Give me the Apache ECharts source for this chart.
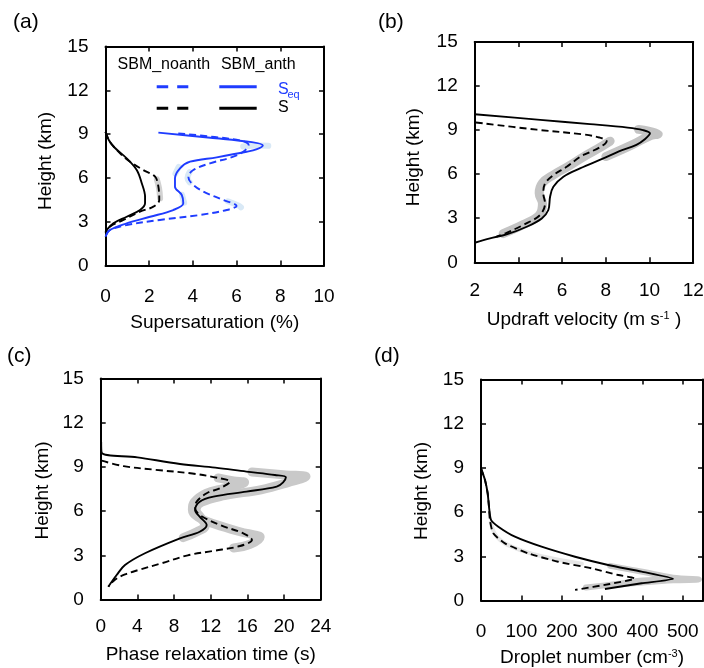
<!DOCTYPE html>
<html><head><meta charset="utf-8">
<script src="https://cdn.jsdelivr.net/npm/echarts@6/dist/echarts.min.js"></script>
<style>html,body{margin:0;padding:0;background:#fff}#c{width:704px;height:668px}</style>
</head><body><div id="c"></div>
<script>
const FONT = '"Liberation Sans", Arial, Helvetica, sans-serif';

// ---------- Panel (a): supersaturation [x=%, y=km] ----------
const aS_anth = [[0,9.15],[0.15,8.6],[0.4,8.1],[0.97,7.34],[1.43,6.54],[1.66,5.63],[1.81,4.71],[1.81,4.26],[1.58,3.8],[0.97,3.34],[0.36,2.89],[0.05,2.43],[0,2.3]];
const aS_noanth = [[0,9.15],[0.15,8.6],[0.4,8.1],[0.97,7.28],[1.73,6.54],[2.27,6.08],[2.42,5.4],[2.46,4.49],[2.19,4.03],[1.58,3.69],[0.82,3.12],[0.2,2.66],[0,2.2]];
const aSeq_anth = [[2.42,9.1],[4.8,8.75],[6.7,8.45],[7.2,8.22],[6.9,7.95],[6.46,7.79],[5.09,7.41],[3.87,7.11],[3.41,6.66],[3.18,5.97],[3.18,5.4],[3.49,4.83],[3.56,4.26],[3.1,3.8],[2.04,3.34],[0.97,2.89],[0.2,2.43],[0,1.97]];
const aSeq_noanth = [[3.33,9.05],[5.0,8.8],[6.2,8.55],[6.55,8.25],[6.35,7.85],[5.85,7.45],[4.78,7.0],[4.02,6.54],[3.79,6.08],[3.94,5.63],[4.48,5.06],[5.39,4.49],[6.0,4.08],[5.55,3.8],[4.32,3.46],[2.49,3.12],[0.97,2.77],[0.2,2.43],[0,2.0]];
const aBandBlue = [
  [[6.3,8.15],[7.0,8.22],[7.45,8.2]],
  [[3.85,6.4],[3.75,6.0],[3.85,5.7]],
  [[5.6,4.4],[6.1,4.1],[6.2,3.98]],
  [[3.35,6.75],[3.2,6.3]],
  [[3.5,4.85],[3.6,4.3]]
];
const aBandGray = [[[2.35,5.9],[2.45,5.3],[2.5,4.6]]];

// ---------- Panel (b): updraft velocity [m/s, km] ----------
const bS_anth = [[2.0,10.08],[5.0,9.7],[7.28,9.41],[9.0,9.17],[9.7,9.0],[10.02,8.78],[9.8,8.4],[9.4,8.0],[8.6,7.55],[7.89,7.07],[6.82,6.39],[6.06,5.82],[5.6,5.14],[5.45,4.46],[5.37,3.56],[5.07,2.99],[4.38,2.42],[3.46,1.9],[2.7,1.63],[2.0,1.33]];
const bS_noanth = [[2.05,9.52],[4.84,9.03],[7.0,8.7],[7.7,8.5],[8.04,8.25],[7.75,7.85],[7.2,7.45],[6.82,7.18],[6.21,6.5],[5.6,5.94],[5.22,5.37],[5.14,4.69],[5.22,4.01],[4.99,3.22],[4.22,2.54],[3.46,2.01],[3.0,1.75]];
const bBand = [
  [[3.3,1.95],[4.2,2.55],[4.95,3.2],[5.1,4.0],[4.95,4.7],[5.1,5.4],[5.6,5.95],[6.3,6.55],[7.0,7.2],[7.6,7.7],[8.2,8.25]],
  [[8.0,7.2],[9.2,8.0],[10.0,8.6],[10.4,8.75],[9.5,9.05]]
];

// ---------- Panel (c): phase relaxation time [s, km] ----------
const cS_anth = [[0.05,10.7],[0.1,9.97],[4,9.65],[8.65,9.2],[12.5,8.95],[15.9,8.68],[19.0,8.45],[20.2,8.3],[19.9,7.95],[19.2,7.66],[15.9,7.32],[12.3,6.98],[10.8,6.64],[10.3,6.08],[10.8,5.62],[11.56,5.06],[10.8,4.6],[8.65,4.15],[4.83,3.14],[2.65,2.34],[1.74,1.66],[0.83,0.87]];
const cS_noanth = [[0.1,9.42],[2.5,9.05],[6.0,8.8],[10.0,8.55],[12.8,8.25],[14.1,8.0],[13.0,7.55],[11.56,7.21],[10.47,6.64],[10.3,6.19],[10.8,5.74],[13.0,5.06],[15.55,4.49],[16.5,4.04],[15.2,3.63],[12.3,3.3],[9.5,3.0],[6.65,2.46],[4.1,2.0],[2.65,1.7],[1.56,1.35],[0.83,0.87]];
const cBand = [
  [[16.5,8.65],[20.2,8.45],[22.4,8.35],[20.5,7.95],[17.5,7.45],[13.5,7.05],[11.0,6.6],[10.4,6.1],[11.0,5.5],[11.4,5.0],[10.5,4.6],[9.0,4.2]],
  [[12.8,8.25],[14.5,8.05],[15.7,7.95],[13.5,7.55],[11.5,7.2],[10.2,6.6],[10.0,6.1],[10.6,5.6],[12.5,5.1],[15.2,4.6],[17.0,4.35],[17.4,4.25],[16.3,3.75],[14.5,3.5]]
];

// ---------- Panel (d): droplet number [cm-3, km] ----------
const dS_anth = [[0,8.97],[9.9,8.18],[16.5,7.28],[19.8,6.37],[24.8,5.47],[42.9,5.01],[84,4.33],[150,3.65],[233,2.97],[315,2.41],[398,1.96],[476,1.47],[398,1.17],[307,0.78]];
const dS_noanth = [[0,8.97],[9.9,8.18],[16.5,7.28],[19.8,6.37],[22,5.47],[30.4,4.56],[59.4,3.88],[117,3.2],[191,2.63],[274,2.18],[340,1.73],[381,1.5],[319,1.12],[233,0.72]];
const dBand = [
  [[320,2.35],[400,1.95],[476,1.55],[540,1.43],[476,1.37],[400,1.22],[330,1.05]],
  [[260,0.88],[330,1.1],[400,1.35],[460,1.45]]
];
const dBandLight = [[[24,5.3],[40,4.3],[80,3.6],[150,3.0],[250,2.5]]];

// ---------- axes ----------
const yTicks = {min:0, max:15, interval:3};
const xAxesDef = [
  {min:0, max:10, interval:2, name:'Supersaturation (%)'},
  {min:2, max:12, interval:2, name:'Updraft velocity (m s{sup|-1} )'},
  {min:0, max:24, interval:4, name:'Phase relaxation time (s)'},
  {min:0, max:550, interval:100, name:'Droplet number (cm{sup|-3})'}
];
const yName = 'Height (km)';

const BLUE = '#1f3cff';
const grids = [
  {left:105.5, top:46.5, width:218.5, height:219},
  {left:474.7, top:42, width:218.5, height:220.3},
  {left:100.7, top:378.5, width:220, height:221},
  {left:481, top:379.5, width:222, height:221}
].map(g => Object.assign({outerBoundsMode:'none', containLabel:false}, g));

const axLine = {show:true, onZero:false, lineStyle:{color:'#000', width:2}};
const axTick = {show:true, inside:true, length:5, lineStyle:{color:'#000', width:1.5}};
const lbl = {color:'#000', fontSize:19, fontFamily:FONT};
const nameSty = {color:'#000', fontSize:19, fontFamily:FONT,
  rich:{sup:{fontSize:11, fontFamily:FONT, color:'#000', verticalAlign:'top', lineHeight:12}}};
const yNamePad = [[0,10,0,0],[0,10,0,0],[0,3,0,0],[0,2,0,0]];
const xLabelMargin = [22, 19, 17.5, 22];
const xNameGap = [48, 48, 46, 48];
const yNameGap = [50, 51, 48, 50];

const xAxis = [], yAxis = [];
xAxesDef.forEach((d, i) => {
  xAxis.push({type:'value', gridIndex:i, position:'bottom', min:d.min, max:d.max, interval:d.interval,
    name:d.name, nameLocation:'middle', nameGap:xNameGap[i], nameTextStyle:nameSty,
    axisLine:axLine, axisTick:axTick, splitLine:{show:false},
    axisLabel:Object.assign({margin:xLabelMargin[i], formatter: v => (v > d.max - 1e-9 && (d.max - d.min) % d.interval !== 0) ? '' : String(v)}, lbl)});
  xAxis.push({type:'value', gridIndex:i, position:'top', min:d.min, max:d.max, interval:d.interval,
    axisLine:axLine, axisTick:axTick, splitLine:{show:false}, axisLabel:{show:false}});
  yAxis.push({type:'value', gridIndex:i, position:'left', min:yTicks.min, max:yTicks.max, interval:yTicks.interval,
    name:yName, nameLocation:'middle', nameGap:yNameGap[i],
    nameTextStyle:Object.assign({padding:yNamePad[i]}, nameSty),
    axisLine:axLine, axisTick:axTick, splitLine:{show:false},
    axisLabel:Object.assign({margin:17}, lbl)});
  yAxis.push({type:'value', gridIndex:i, position:'right', min:yTicks.min, max:yTicks.max, interval:yTicks.interval,
    axisLine:axLine, axisTick:axTick, splitLine:{show:false}, axisLabel:{show:false}});
});

const series = [];
function curve(gi, data, color, dashed, smooth) {
  series.push({type:'line', xAxisIndex:2*gi, yAxisIndex:2*gi, data:data, smooth:smooth === undefined ? 0.35 : smooth,
    symbol:'none', silent:true, animation:false, z:3,
    lineStyle:{color:color, width:1.9, type: dashed ? [7,4] : 'solid', join:'round'}});
}
function band(gi, segs, color, width) {
  segs.forEach(s => series.push({type:'line', xAxisIndex:2*gi, yAxisIndex:2*gi, data:s, smooth:0.4,
    symbol:'none', silent:true, animation:false, z:1,
    lineStyle:{color:color, width:width, cap:'round', join:'round'}}));
}
band(0, aBandBlue, '#d9e9f6', 6);
band(0, aBandGray, '#d2d2d2', 6);
curve(0, aS_noanth, '#000', true);
curve(0, aS_anth, '#000', false);
curve(0, aSeq_noanth, BLUE, true);
curve(0, aSeq_anth, BLUE, false);

band(1, bBand, '#c4c4c4', 9);
curve(1, bS_noanth, '#000', true);
curve(1, bS_anth, '#000', false);

band(2, cBand, '#c9c9c9', 9);
curve(2, cS_noanth, '#000', true);
curve(2, cS_anth, '#000', false);

band(3, dBandLight, '#e6e6e6', 4);
band(3, dBand, '#cbcbcb', 6);
curve(3, dS_noanth, '#000', true, 0.2);
curve(3, dS_anth, '#000', false, 0.2);

function txt(x, y, text, size, color, align) {
  return {type:'text', x:x, y:y, silent:true, style:{text:text, fill:color || '#000',
    font: size + 'px ' + FONT, textAlign: align || 'left', textVerticalAlign:'middle', align: align || 'left', verticalAlign:'middle'}};
}
function seg(x1, x2, y, color, dash) {
  return {type:'line', silent:true, shape:{x1:x1, y1:y, x2:x2, y2:y},
    style:{stroke:color, lineWidth:3, lineDash: dash ? [11.5, 9] : null}};
}
const graphic = [
  txt(13, 22, '(a)', 21), txt(378, 22, '(b)', 21), txt(7, 356, '(c)', 21), txt(374, 356, '(d)', 21),
  txt(163.8, 65, 'SBM_noanth', 16, '#000', 'center'),
  txt(258.3, 65, 'SBM_anth', 16, '#000', 'center'),
  seg(156.7, 188.3, 86.7, BLUE, true),
  seg(219.3, 256.7, 86.7, BLUE, false),
  seg(156.7, 188.3, 108.3, '#000', true),
  seg(219.3, 256.7, 108.3, '#000', false),
  txt(278, 89.5, 'S', 16, BLUE),
  txt(287.5, 95, 'eq', 11, BLUE),
  txt(278, 107.5, 'S', 16, '#000')
];

const chart = echarts.init(document.getElementById('c'), null, {renderer:'canvas'});
chart.setOption({animation:false, backgroundColor:'#fff', grid:grids, xAxis:xAxis, yAxis:yAxis, series:series, graphic:graphic});
</script></body></html>
